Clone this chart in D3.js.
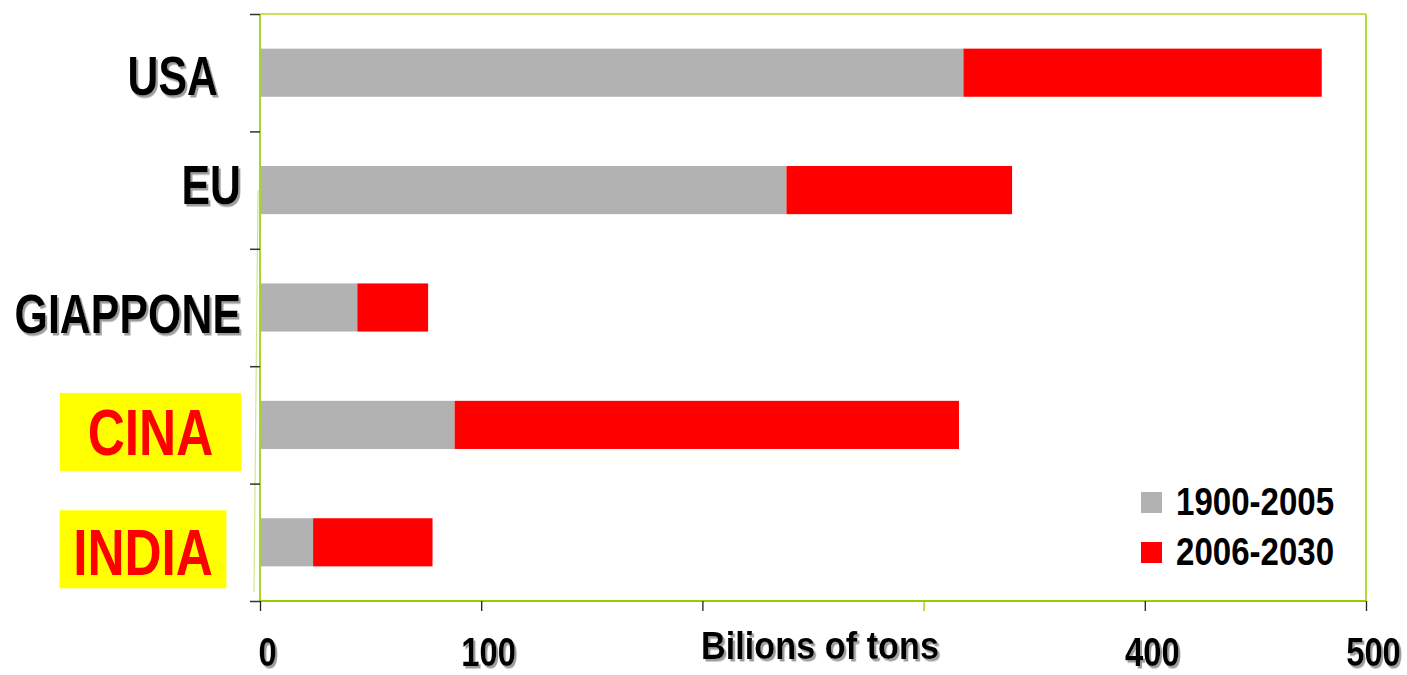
<!DOCTYPE html>
<html>
<head>
<meta charset="utf-8">
<script src="https://cdn.jsdelivr.net/npm/d3@7"></script>
<style>
  html, body { margin: 0; padding: 0; background: #ffffff; }
  svg { display: block; }
  text { font-family: "Liberation Sans", Arial, sans-serif; font-weight: bold; }
</style>
</head>
<body>
<svg id="chart" width="1407" height="675"></svg>
<script>
// Cumulative CO2 emissions, billions of tons
const countries = ["USA", "EU", "GIAPPONE", "CINA", "INDIA"];
const highlighted = ["CINA", "INDIA"];
const seriesNames = ["1900-2005", "2006-2030"];
const emissions1900_2005 = [318, 238, 44, 88, 24];
const emissions2006_2030 = [162, 102, 32, 228, 54];
const xTickValues = [0, 100, 200, 300, 400, 500];
const xTickLabels = ["0", "100", "", "", "400", "500"];
const axisTitle = "Bilions of tons";

const seriesColors = ["#b2b2b2", "#ff0000"];
const frameGreen = "#99cc00";

const svg = d3.select("#chart");
const plot = { left: 260, right: 1366, top: 14, bottom: 601 };

const x = d3.scaleLinear().domain([0, 500]).range([plot.left, plot.right]);
const y = d3.scaleBand().domain(countries)
  .range([plot.top, plot.bottom])
  .paddingInner(0.59).paddingOuter(0.295);
const yEdges = d3.scaleLinear().domain([0, countries.length]).range([plot.top, plot.bottom]);

// text drop shadow
const defs = svg.append("defs");
const f = defs.append("filter").attr("id", "shadow")
  .attr("x", "-10%").attr("y", "-10%").attr("width", "130%").attr("height", "140%");
f.append("feDropShadow").attr("dx", 2.5).attr("dy", 2.5).attr("stdDeviation", 0.6)
  .attr("flood-color", "#8c8c8c").attr("flood-opacity", 0.85);

// narrow bold text: a horizontally condensed label placed at (tx, ty)
function narrowText(parent, tx, ty, str, size, sx, anchor) {
  const g = parent.append("g").attr("transform", `translate(${tx},${ty}) scale(${sx},1)`);
  const t = g.append("text")
    .attr("x", 0).attr("y", 0)
    .attr("text-anchor", anchor || "start")
    .attr("font-size", size)
    .attr("fill", "#000")
    .text(str);
  return t;
}

// stacked data
const rows = countries.map((c, i) => ({
  country: c,
  [seriesNames[0]]: emissions1900_2005[i],
  [seriesNames[1]]: emissions2006_2030[i]
}));
const stacked = d3.stack().keys(seriesNames)(rows);

// faint secondary edge line left of the plot
svg.append("line")
  .attr("x1", 258).attr("y1", 190).attr("x2", 254).attr("y2", 592)
  .attr("stroke", "#cfe88a").attr("stroke-width", 1.2);

// bars
svg.append("g").selectAll("g")
  .data(stacked)
  .join("g")
  .attr("fill", (d, i) => seriesColors[i])
  .selectAll("rect")
  .data(d => d)
  .join("rect")
  .attr("x", d => x(d[0]))
  .attr("y", d => y(d.data.country))
  .attr("width", d => x(d[1]) - x(d[0]))
  .attr("height", y.bandwidth());

// plot frame
svg.append("line").attr("x1", plot.left).attr("x2", plot.right).attr("y1", plot.top).attr("y2", plot.top)
  .attr("stroke", "#c6e35a").attr("stroke-width", 2);
svg.append("line").attr("x1", plot.right).attr("x2", plot.right).attr("y1", plot.top).attr("y2", plot.bottom)
  .attr("stroke", "#b0dc3a").attr("stroke-width", 2);
svg.append("line").attr("x1", plot.left).attr("x2", plot.right).attr("y1", plot.bottom).attr("y2", plot.bottom)
  .attr("stroke", frameGreen).attr("stroke-width", 2);
svg.append("line").attr("x1", plot.left).attr("x2", plot.left).attr("y1", plot.top).attr("y2", plot.bottom)
  .attr("stroke", "#a6d62e").attr("stroke-width", 2);

// y axis ticks at category boundaries
const yAxis = svg.append("g").attr("transform", `translate(${plot.left},0)`)
  .call(d3.axisLeft(yEdges).ticks(countries.length).tickSize(10).tickFormat(""));
yAxis.select(".domain").remove();
yAxis.selectAll(".tick line").attr("stroke", "#333").attr("stroke-width", 1.5);

// x axis
const xAxis = svg.append("g").attr("transform", `translate(0,${plot.bottom})`)
  .call(d3.axisBottom(x).tickValues(xTickValues).tickSize(10)
    .tickFormat((d, i) => xTickLabels[i]));
xAxis.select(".domain").remove();
xAxis.selectAll(".tick line")
  .attr("stroke", (d) => d === 300 ? frameGreen : "#222").attr("stroke-width", 1.3);
xAxis.selectAll(".tick text")
  .attr("x", 0).attr("y", 0).attr("dy", 0)
  .attr("transform", "translate(7,65) scale(0.8,1)")
  .attr("font-size", 41).attr("fill", "#000")
  .attr("filter", "url(#shadow)");

// axis title
narrowText(svg, 820, 659, axisTitle, 39, 0.88, "middle")
  .attr("filter", "url(#shadow)");

// category labels
const labelShift = { USA: 22, EU: 14, GIAPPONE: 25, CINA: 30, INDIA: 33 };
const labelG = svg.append("g");
countries.forEach(c => {
  const cy = y(c) + y.bandwidth() / 2;
  if (highlighted.includes(c)) {
    const cx = c === "CINA" ? 150.5 : 143;
    const padX = c === "CINA" ? 28 : 13.5;
    const box = labelG.append("rect").attr("fill", "#ffff00");
    const t = narrowText(labelG, cx, cy + labelShift[c], c, 65, 0.79, "middle")
      .attr("fill", "#ff0000");
    const w = t.node().getComputedTextLength() * 0.79;
    box.attr("x", cx - w / 2 - padX).attr("y", cy - 32)
      .attr("width", w + 2 * padX).attr("height", 78);
  } else {
    narrowText(labelG, c === "USA" ? 218 : 241, cy + labelShift[c], c, 55, 0.78, "end")
      .attr("filter", "url(#shadow)");
  }
});

// legend
const legend = svg.append("g");
seriesNames.forEach((name, i) => {
  const ly = 492 + i * 50;
  legend.append("rect")
    .attr("x", 1141).attr("y", ly).attr("width", 21).attr("height", 21)
    .attr("fill", seriesColors[i]);
  narrowText(legend, 1176, ly + 23, name, 38, 0.87, "start");
});
</script>
</body>
</html>
